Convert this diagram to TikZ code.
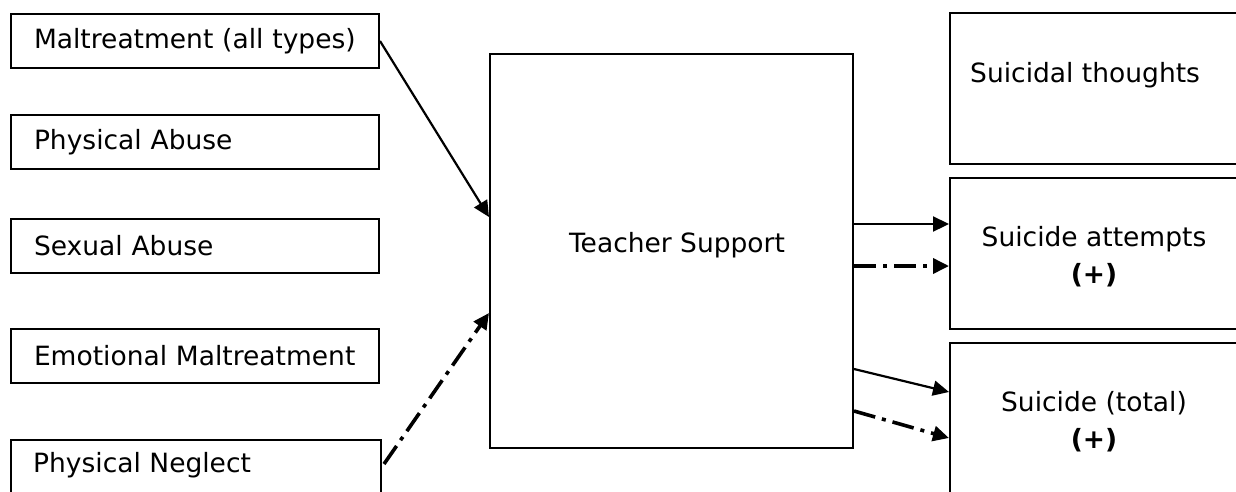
\documentclass[tikz,border=0pt]{standalone}
\usepackage{fontspec}
\setmainfont{DejaVu Sans}
\usetikzlibrary{arrows.meta}
\tikzset{
  box/.style={draw, line width=2pt, inner sep=0pt, font=\fontsize{26.5}{33}\selectfont},
  leftbox/.style={box, anchor=north west, minimum height=54pt,
    text width=322pt, inner xsep=23pt, align=left},
  label/.style={font=\fontsize{26.5}{33}\selectfont},
  link/.style={line width=2.2pt, -{Triangle[length=16pt,width=15pt]}},
  dashdot/.style={link, line width=3.6pt, dash pattern=on 22pt off 7pt on 4pt off 7pt},
}
\begin{document}
\begin{tikzpicture}[x=1pt, y=-1pt]
\useasboundingbox (0,0) rectangle (1236,491);
\clip (0,0) rectangle (1236,491);
% exposures
\node[leftbox] (mal) at (10,13) {Maltreatment (all types)};
\node[leftbox] (pa) at (10,114) {Physical Abuse};
\node[leftbox] (sa) at (10,218) {Sexual Abuse};
\node[leftbox] (em) at (10,328) {Emotional Maltreatment};
\node[box, anchor=north west, minimum width=370pt, minimum height=70pt] (pn) at (10,439) {};
\node[label, anchor=west, inner sep=0pt] (pnt) at (33,465) {Physical Neglect};
% moderator
\node[box, anchor=north west, minimum width=363pt, minimum height=394pt] (ts) at (489,53) {};
\node[label] (tst) at (677,245) {Teacher Support};
% outcomes
\node[box, anchor=north west, minimum width=290pt, minimum height=151pt] (st) at (949,12) {};
\node[label, anchor=west, inner sep=0pt] (stt) at (970,75) {Suicidal thoughts};
\node[box, anchor=north west, minimum width=290pt, minimum height=151pt] (at) at (949,177) {};
\node[label, align=center] (att) at (1094,257) {Suicide attempts\\[4pt]\textbf{(+)}};
\node[box, anchor=north west, minimum width=290pt, minimum height=160pt] (tot) at (949,342) {};
\node[label, align=center] (tott) at (1094,422) {Suicide (total)\\[4pt]\textbf{(+)}};
% anchor points on the box edges
\coordinate (n1) at ([xshift=2pt,yshift=-25pt]pn.north east);
\coordinate (ts1) at ([yshift=-164pt]ts.north west);
\coordinate (ts2) at ([yshift=-260pt]ts.north west);
\coordinate (o1) at ([yshift=-171pt]ts.north east);
\coordinate (o2) at ([yshift=-213pt]ts.north east);
\coordinate (o3) at ([yshift=-316pt]ts.north east);
\coordinate (o4) at ([yshift=-358pt]ts.north east);
% paths
\draw[link] (mal.east) -- (ts1);
\draw[dashdot] (n1) -- (ts2);
\draw[link] (o1) -- (at.west |- o1);
\draw[dashdot] (o2) -- (at.west |- o2);
\draw[link] (o3) -- ([yshift=-50pt]tot.north west);
\draw[dashdot] (o4) -- ([yshift=-96pt]tot.north west);
\end{tikzpicture}
\end{document}
